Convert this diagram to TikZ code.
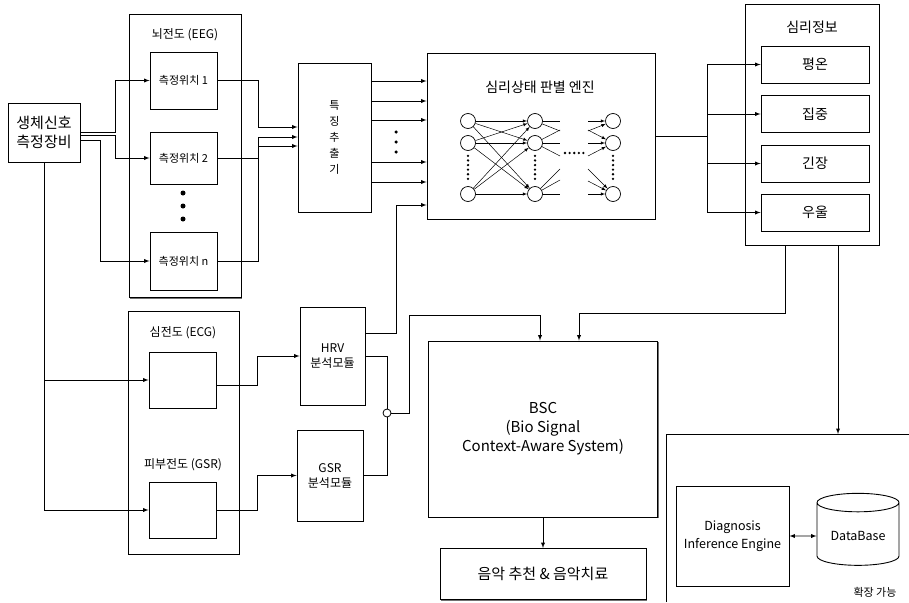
\documentclass[tikz,border=0pt]{standalone}
\usepackage{fontspec}
\setmainfont{Noto Sans CJK KR}
\usetikzlibrary{arrows}
\usetikzlibrary{shapes.geometric, shadows}
\newcommand{\sz}[2]{\fontsize{#1}{#2}\selectfont}

\tikzset{
  box/.style={draw, fill=white, line width=0.9pt, inner sep=1pt, align=center},
  shbox/.style={box, drop shadow={shadow xshift=1.2pt, shadow yshift=-1.2pt, opacity=0.8, fill=black!70}},
  arr/.style={-latex, line width=0.9pt},
  wire/.style={line width=0.9pt},
  neuron/.style={circle, draw, fill=white, minimum size=15pt, inner sep=0pt, line width=0.7pt},
  nnarr/.style={-latex, line width=0.5pt},
  dotline/.style={line cap=round, dash pattern=on 0pt off #1},
}

\begin{document}
\begin{tikzpicture}[x=1pt, y=-1pt]
\useasboundingbox (0,0) rectangle (909,602);

% measuring device
\node[shbox, minimum width=72pt, minimum height=59pt, font=\sz{15}{19}] (sensor) at (44,132.5) {생체신호\\측정장비};

% EEG group
\node[shbox, minimum width=112pt, minimum height=283pt] (eeg) at (185,156) {};
\node[font=\sz{12}{14}] (eegtitle) at (185,35) {뇌전도 (EEG)};
\node[box, minimum width=67pt, minimum height=57pt, font=\sz{11}{13}] (pos1) at (183.5,80.5) {측정위치 1};
\node[box, minimum width=67pt, minimum height=52pt, font=\sz{11}{13}] (pos2) at (183.5,158) {측정위치 2};
\node[box, minimum width=67pt, minimum height=58pt, font=\sz{11}{13}] (posn) at (183.5,261) {측정위치 n};
\draw[line width=5pt, dotline=13pt] (183,193) -- (183,219.5);

% feature extractor
\node[shbox, minimum width=73pt, minimum height=149pt, font=\sz{11}{16}] (feat) at (334.5,137.5) {특\\징\\추\\출\\기};

% ECG / GSR group
\node[shbox, minimum width=111pt, minimum height=243pt] (ecg) at (183.5,432.5) {};
\node[font=\sz{12}{14}] (ecgtitle) at (183,333) {심전도 (ECG)};
\node[font=\sz{12}{14}] (gsrtitle) at (183,465) {피부전도 (GSR)};
\node[box, minimum width=67pt, minimum height=56pt] (ecgbox) at (182.5,380) {};
\node[box, minimum width=67pt, minimum height=56pt] (gsrbox) at (182.5,510) {};

% analysis modules
\node[shbox, minimum width=65pt, minimum height=98pt, font=\sz{12}{15}] (hrv) at (332.5,356) {HRV\\분석모듈};
\node[shbox, minimum width=66pt, minimum height=91pt, font=\sz{12}{15}] (gsrmod) at (330,475.5) {GSR\\분석모듈};

% state engine
\node[shbox, minimum width=228pt, minimum height=166pt] (engine) at (541,136) {};
\node[font=\sz{14}{16}] (enginetitle) at (540,87) {심리상태 판별 엔진};

% neural net
\foreach \c/\xx in {1/468, 2/535, 3/613}
  \foreach \r/\yy in {1/121, 2/143, 3/194}
    \node[neuron] (n\c\r) at (\xx,\yy) {};
\foreach \a in {1,2,3}
  \foreach \b in {1,2,3}
    \draw[nnarr] (n1\a) -- (n2\b);
\foreach \s/\t in {n21/121, n21/131, n22/143, n22/130, n22/156, n23/194, n23/180, n23/169}
  \draw[line width=0.5pt] (\s) -- (560,\t);
\foreach \t/\s in {n31/121, n31/131, n32/143, n32/130, n32/156, n33/194, n33/181, n33/169}
  \draw[nnarr] (588,\s) -- (\t);
\foreach \c in {1,2,3}
  \draw[line width=2.6pt, dotline=4.6pt] (n\c2.south) ++(0,5) -- ([yshift=4pt]n\c3.north);
\draw[line width=2.6pt, dotline=4.6pt] (565,153) -- (586,153);

% psychological info
\node[shbox, minimum width=134pt, minimum height=241pt] (info) at (812,124.5) {};
\node[font=\sz{14}{16}] (infotitle) at (812,27) {심리정보};
\node[box, minimum width=108pt, minimum height=37pt, font=\sz{14}{16}] (calm) at (815,64.5) {평온};
\node[box, minimum width=108pt, minimum height=37pt, font=\sz{14}{16}] (focus) at (815,114) {집중};
\node[box, minimum width=108pt, minimum height=37pt, font=\sz{14}{16}] (tense) at (815,163.5) {긴장};
\node[box, minimum width=108pt, minimum height=37pt, font=\sz{14}{16}] (gloom) at (815,212.5) {우울};

% context-aware system
\node[shbox, minimum width=229pt, minimum height=176pt, font=\sz{15}{19}] (bsc) at (543,429) {BSC\\(Bio Signal\\Context-Aware System)};
\node[shbox, minimum width=206pt, minimum height=51pt, font=\sz{15}{18}] (music) at (543,574) {음악 추천 \& 음악치료};

% extension area
\draw[line width=0.8pt] (666,602) -- (666,434) -- (909,434);
\coordinate (ext) at (838,434);
\node[shbox, minimum width=113pt, minimum height=100pt, font=\sz{12.5}{18}] (diag) at (732.5,536) {Diagnosis\\Inference Engine};
\node[draw, fill=white, line width=0.9pt, cylinder, shape border rotate=90, aspect=0.3,
      minimum width=82pt, minimum height=72pt, font=\sz{12.5}{15}] (db) at (858,536) {DataBase};
\node[font=\sz{11}{13}] (extlabel) at (875,592) {확장 가능};

% device -> EEG
\draw[arr] (sensor.east) -- (115,132.5) |- (pos1);
\draw[arr] ([yshift=-2.5pt]sensor.east) -- (115,135) |- (pos2);
\draw[arr] ([yshift=-7.5pt]sensor.east) -- (100,140) |- (posn);
% device -> ECG, GSR
\draw[arr] (sensor.south) |- (ecgbox);
\draw[arr] (sensor.south) |- (gsrbox);

% EEG -> features
\draw[arr] (pos1.east) -- (258,80.5) |- ([yshift=10.5pt]feat.west);
\draw[arr] (pos2.east) -- (258,158) |- ([yshift=0.5pt]feat.west);
\draw[arr] (posn.east) -- (258,261) |- ([yshift=-8.5pt]feat.west);

% features -> engine
\foreach \yy in {81,101,120,162,182}
  \draw[arr] (feat.east |- 0,\yy) -- (engine.west |- 0,\yy);
\draw[line width=3.5pt, dotline=10pt] (396,132) -- (396,152.5);

% ECG, GSR -> modules
\draw[arr] ([yshift=-5pt]ecgbox.east) -- (257,385) |- (hrv);
\draw[arr] (gsrbox.east) -- (257,510) |- (gsrmod);

% modules -> engine, BSC
\draw[arr] ([yshift=23pt]hrv.east) -- (396,333) |- (engine.west |- 0,205);
\node[circle, draw, fill=white, minimum size=8pt, inner sep=0pt, line width=0.8pt] (junc) at (387,413) {};
\draw[wire] (hrv.east) -| (junc);
\draw[wire] (gsrmod.east) -| (junc);
\draw[arr] (junc) -- (409,413) |- (540,315) -- (bsc.north -| 540,0);

% engine -> info
\draw[wire] (engine.east) -- (707,136);
\draw[wire] (707,64.5) -- (707,212.5);
\foreach \n in {calm,focus,tense,gloom}
  \draw[arr] (707,0 |- \n) -- (\n);

% info -> BSC, extension
\draw[arr] (info.south -| 785,0) |- (579,313) -- (bsc.north -| 579,0);
\draw[arr] (info.south -| 838,0) -- (ext);

% BSC -> music
\draw[arr] (bsc) -- (music);
\draw[latex-latex, line width=0.9pt] (diag) -- (db);
\end{tikzpicture}
\end{document}
